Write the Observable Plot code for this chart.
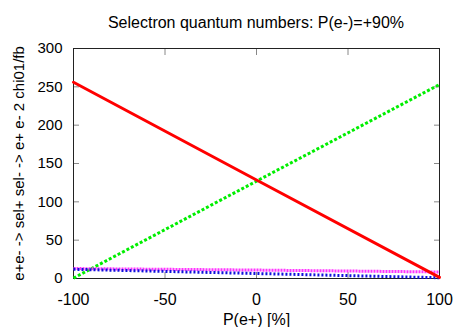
<!DOCTYPE html>
<html><head><meta charset="utf-8">
<script src="https://cdn.jsdelivr.net/npm/d3@7"></script>
<script src="https://cdn.jsdelivr.net/npm/@observablehq/plot@0.6"></script>
<style>
body{margin:0;background:#fff;font-family:"Liberation Sans",Arial,sans-serif;}
#title{position:relative;height:38px;width:467px;}
#title span{position:absolute;left:256px;top:14px;transform:translateX(-50%);font-size:16px;white-space:nowrap;color:#000;}
</style></head>
<body>
<div id="title"><span>Selectron quantum numbers: P(e-)=+90%</span></div>
<div id="chart"></div>
<script>
const polPos = [-100, 0, 100];
const redSeries = [256, 128.5, 1.5];
const greenSeries = [0.5, 127, 253];
const magentaSeries = [13, 11, 8.5];
const blueSeries = [12, 6.5, 1];
const xTicks = [-100, -50, 0, 50, 100];
const yTicks = [0, 50, 100, 150, 200, 250, 300];

const rows = (vals) => polPos.map((p, i) => ({x: p, y: vals[i]}));

const chart = Plot.plot({
  width: 467,
  height: 289,
  marginTop: 10,
  marginBottom: 49,
  marginLeft: 73,
  marginRight: 28,
  style: {fontFamily: "Liberation Sans, Arial, sans-serif", fontSize: "16px", color: "#000", background: "#fff"},
  x: {domain: [-100, 100]},
  y: {domain: [0, 300]},
  marks: [
    Plot.axisX({ticks: xTicks, anchor: "bottom", tickSize: -6, tickPadding: 21, stroke: "#888", tickFormat: d => String(d), label: "P(e+) [%]", labelAnchor: "center", labelArrow: "none", labelOffset: 46, fontSize: 16}),
    Plot.axisX({ticks: xTicks, anchor: "top", tickSize: -6, tickFormat: () => "", stroke: "#888", label: null}),
    Plot.axisY({ticks: yTicks, anchor: "left", tickSize: -6, tickPadding: 17, stroke: "#888", tickFormat: d => String(d), label: "e+e- -> sel+ sel- -> e+ e- 2 chi01/fb", labelAnchor: "center", labelOffset: 60, labelArrow: "none", fontSize: 15}),
    Plot.axisY({ticks: yTicks, anchor: "right", tickSize: -6, tickFormat: () => "", stroke: "#888", label: null}),
    Plot.frame({stroke: "#222"}),
    Plot.line(rows(greenSeries), {x: "x", y: "y", stroke: "#00ee00", strokeWidth: 3, strokeDasharray: "3,2", strokeLinecap: "butt"}),
    Plot.line(rows(magentaSeries), {x: "x", y: "y", stroke: "#ff33ff", strokeWidth: 3, strokeDasharray: "2,1", strokeLinecap: "butt"}),
    Plot.line(rows(blueSeries), {x: "x", y: "y", stroke: "#1010dd", strokeWidth: 3, strokeDasharray: "2,2", strokeLinecap: "butt"}),
    Plot.line(rows(redSeries), {x: "x", y: "y", stroke: "#ff0000", strokeWidth: 3})
  ]
});
document.getElementById("chart").appendChild(chart);
</script>
</body></html>
